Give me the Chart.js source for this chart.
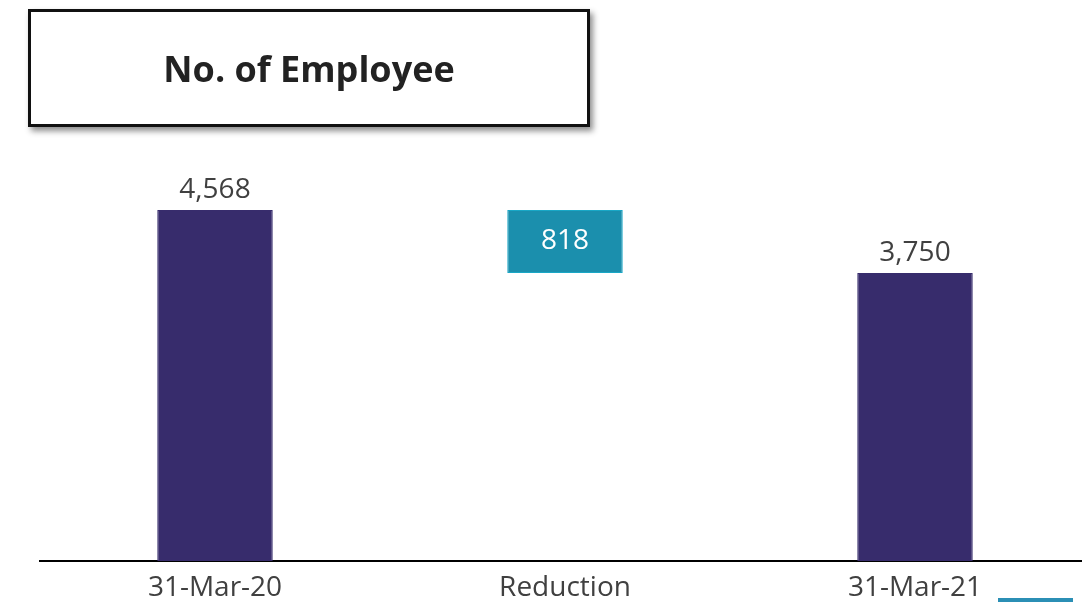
<!DOCTYPE html>
<html>
<head>
<meta charset="utf-8">
<script src="https://cdn.jsdelivr.net/npm/chart.js@4"></script>
<style>
  html, body { margin: 0; padding: 0; background: #fff; overflow: hidden; }
  #wrap { position: relative; width: 1090px; height: 602px; }
  #title {
    position: absolute; left: 28px; top: 9px; width: 556px; height: 112px;
    border: 3px solid #111; background: #fff;
    box-shadow: 3px 4px 6px rgba(0,0,0,0.45);
    font: bold 36px "Open Sans", sans-serif; color: #222;
    display: flex; align-items: center; justify-content: center;
  }
  #legendStub {
    position: absolute; left: 998px; top: 598px; width: 75px; height: 4px;
    background: #2b8fb5;
  }
</style>
</head>
<body>
<div id="wrap">
  <canvas id="chart"></canvas>
  <div id="title">No. of Employee</div>
  <div id="legendStub"></div>
</div>
<script>
// Waterfall data: opening headcount, reduction, closing headcount
const categories = ["31-Mar-20", "Reduction", "31-Mar-21"];
const barStart = [0, 3750, 0];
const barEnd = [4568, 4568, 3750];
const barColors = ["#372c6c", "#1b8fad", "#372c6c"];
const borderColors = ["#372c6c", "#19a7c6", "#372c6c"];

const fmt = n => n.toLocaleString("en-US");

// value labels: above the totals, inside the floating reduction bar
const valueLabels = {
    id: "valueLabels",
    afterDatasetsDraw(chart) {
        const ctx = chart.ctx;
        const meta = chart.getDatasetMeta(0);
        ctx.save();
        ctx.font = '28px "Open Sans", sans-serif';
        ctx.textAlign = "center";
        meta.data.forEach((bar, i) => {
            const v = barEnd[i] - barStart[i];
            if (barStart[i] > 0) {
                ctx.fillStyle = "#ffffff";
                ctx.textBaseline = "middle";
                ctx.fillText(fmt(v), bar.x, (bar.y + bar.base) / 2);
            } else {
                ctx.fillStyle = "#404040";
                ctx.textBaseline = "bottom";
                ctx.fillText(fmt(v), bar.x, bar.y - 6);
            }
        });
        ctx.restore();
    }
};

new Chart(document.getElementById("chart"), {
    type: "bar",
    data: {
        labels: categories,
        datasets: [{
            data: categories.map((_, i) => [barStart[i], barEnd[i]]),
            backgroundColor: barColors,
            borderColor: borderColors,
            borderWidth: 1,
            borderSkipped: false,
            barPercentage: 0.33,
            categoryPercentage: 1
        }]
    },
    options: {
        responsive: true,
        maintainAspectRatio: false,
        animation: false,
        layout: { padding: { left: 40, top: 100, right: 0, bottom: 0 } },
        plugins: { legend: { display: false }, tooltip: { enabled: false } },
        scales: {
            x: {
                grid: { display: false, drawTicks: false },
                border: { display: true, color: "#000", width: 2 },
                ticks: {
                    color: "#404040",
                    padding: 10,
                    font: { family: "Open Sans", size: 28 }
                },
                afterFit(scale) { scale.height = 41; }
            },
            y: { display: false, min: 0, max: 6000 }
        }
    },
    plugins: [valueLabels]
});
</script>
</body>
</html>
